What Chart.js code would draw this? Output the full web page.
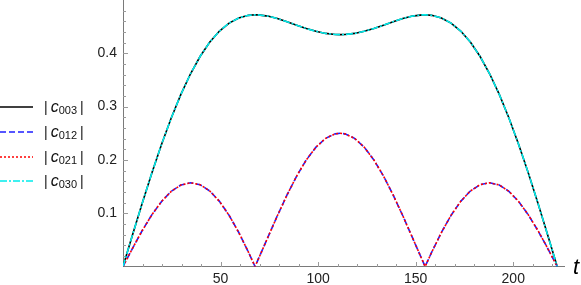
<!DOCTYPE html>
<html><head><meta charset="utf-8">
<script src="https://cdn.jsdelivr.net/npm/chart.js@4"></script>
<style>
html,body{margin:0;padding:0;background:#fff;overflow:hidden}
#wrap{position:relative;width:581px;height:285px}
#c{position:absolute;left:0;top:0}
.leg{position:absolute;left:0;height:20px;display:flex;align-items:center;font-family:"Liberation Sans",Arial,sans-serif;font-size:14px;color:#111;white-space:nowrap}
.leg svg{display:block;margin-right:11px}
.leg i{font-size:16px;font-style:italic;margin-left:3px}
.leg .sub{font-size:11px;position:relative;top:3px;margin-right:3px}
#tlab{position:absolute;left:573px;top:256px;font:italic 22px/22px "Liberation Sans",Arial,sans-serif;color:#000}
</style></head>
<body><div id="wrap"><canvas id="c" width="581" height="285"></canvas><div id="legend"></div><div id="tlab">t</div></div>
<script>
// time values (t)
const tValues = [0,4.94,9.89,14.83,19.78,24.72,29.67,34.61,39.56,44.5,49.44,54.39,59.33,64.28,67.66,69.22,74.17,79.11,84.06,89,93.94,98.89,103.83,108.78,111.25,113.72,118.67,123.61,128.56,133.5,138.44,143.39,148.33,153.28,154.84,158.22,163.17,168.11,173.06,178,182.94,187.89,192.83,197.78,202.72,207.67,212.61,217.56,222.5];
// |c003| (and |c030|, which coincides)
const c003Values = [0,0.0602,0.1192,0.1760,0.2294,0.2786,0.3229,0.3616,0.3944,0.4211,0.4418,0.4567,0.4663,0.4712,0.4722,0.4721,0.4698,0.4652,0.4593,0.4528,0.4465,0.4412,0.4373,0.4353,0.4350,0.4353,0.4373,0.4412,0.4465,0.4528,0.4593,0.4652,0.4698,0.4721,0.4722,0.4712,0.4663,0.4567,0.4418,0.4211,0.3944,0.3616,0.3229,0.2786,0.2294,0.1760,0.1192,0.0602,0];
const c030Values = [0,0.0602,0.1192,0.1760,0.2294,0.2786,0.3229,0.3616,0.3944,0.4211,0.4418,0.4567,0.4663,0.4712,0.4722,0.4721,0.4698,0.4652,0.4593,0.4528,0.4465,0.4412,0.4373,0.4353,0.4350,0.4353,0.4373,0.4412,0.4465,0.4528,0.4593,0.4652,0.4698,0.4721,0.4722,0.4712,0.4663,0.4567,0.4418,0.4211,0.3944,0.3616,0.3229,0.2786,0.2294,0.1760,0.1192,0.0602,0];
// |c012| (and |c021|, which coincides)
const c012Values = [0,0.0346,0.0676,0.0972,0.1221,0.1410,0.1529,0.1571,0.1534,0.1416,0.1222,0.0959,0.0638,0.0270,0,0.0128,0.0541,0.0952,0.1342,0.1697,0.2000,0.2239,0.2405,0.2489,0.2500,0.2489,0.2405,0.2239,0.2000,0.1697,0.1342,0.0952,0.0541,0.0128,0,0.0270,0.0638,0.0959,0.1222,0.1416,0.1534,0.1571,0.1529,0.1410,0.1221,0.0972,0.0676,0.0346,0];
const c021Values = [0,0.0346,0.0676,0.0972,0.1221,0.1410,0.1529,0.1571,0.1534,0.1416,0.1222,0.0959,0.0638,0.0270,0,0.0128,0.0541,0.0952,0.1342,0.1697,0.2000,0.2239,0.2405,0.2489,0.2500,0.2489,0.2405,0.2239,0.2000,0.1697,0.1342,0.0952,0.0541,0.0128,0,0.0270,0.0638,0.0959,0.1222,0.1416,0.1534,0.1571,0.1529,0.1410,0.1221,0.0972,0.0676,0.0346,0];
const seriesNames = ["003","012","021","030"];
const xTickValues = [50,100,150,200];
const yTickValues = [0.1,0.2,0.3,0.4];

const styles = [
  {color:"#000000", dash:[]},
  {color:"rgb(30,30,255)", dash:[6,3]},
  {color:"rgb(255,0,0)", dash:[2,2]},
  {color:"rgb(0,235,235)", dash:[7,2,2,2]}
];
const allValues = [c003Values,c012Values,c021Values,c030Values];

const datasets = allValues.map((vals,i)=>({
  label:"|c"+seriesNames[i]+"|",
  data: tValues.map((t,k)=>({x:t,y:vals[k]})),
  borderColor: styles[i].color,
  borderDash: styles[i].dash,
  borderWidth: 1.6,
  pointRadius: 0,
  tension: 0,
  fill: false,
  order: 4-i
}));

const axisColor = "#7a7a7a";
const tickPlugin = {
  id:"inTicks",
  beforeDatasetsDraw(chart){
    const {ctx, chartArea:a, scales:{x,y}} = chart;
    ctx.save(); ctx.strokeStyle="#9a9a9a"; ctx.lineWidth=1;
    ctx.beginPath();
    for(let v=10; v<=220; v+=10){
      const px=Math.round(x.getPixelForValue(v))+0.5;
      const len = v%50===0?5:3;
      ctx.moveTo(px,Math.round(a.bottom)); ctx.lineTo(px,Math.round(a.bottom)-len);
    }
    for(let k=1;k<=24;k++){
      const py=Math.round(y.getPixelForValue(k*0.02))+0.5;
      const len = k%5===0?5:3;
      ctx.moveTo(Math.round(a.left),py); ctx.lineTo(Math.round(a.left)+len,py);
    }
    ctx.stroke(); ctx.restore();
  }
};

const tickFont = {family:"'Liberation Sans', Arial, sans-serif", size:14};
new Chart(document.getElementById("c"), {
  type:"line",
  data:{datasets},
  plugins:[tickPlugin],
  options:{
    responsive:false, animation:false, devicePixelRatio:1,
    layout:{padding:{left:0,top:0,right:17,bottom:0}},
    plugins:{legend:{display:false}, tooltip:{enabled:false}},
    scales:{
      x:{type:"linear", min:0, max:226,
         afterBuildTicks:s=>{s.ticks = xTickValues.map(v=>({value:v}));},
         afterFit:s=>{s.height=18.5; s.paddingLeft=0; s.paddingRight=0;},
         grid:{display:false, drawTicks:false},
         border:{display:true,color:axisColor,width:1},
         ticks:{font:tickFont,color:"#222",padding:4,maxRotation:0,autoSkip:false}},
      y:{type:"linear", min:0, max:0.5,
         afterBuildTicks:s=>{s.ticks = yTickValues.map(v=>({value:v}));},
         afterFit:s=>{s.width=123; s.paddingTop=0; s.paddingBottom=0;},
         grid:{display:false, drawTicks:false},
         border:{display:true,color:axisColor,width:1},
         ticks:{font:tickFont,color:"#222",padding:6,callback:v=>v.toFixed(1)}}
    }
  }
});

// legend
const legRows = [107,132,157,181];
const lg = document.getElementById("legend");
seriesNames.forEach((n,i)=>{
  const d = document.createElement("div");
  d.className="leg"; d.style.top=(legRows[i]-10)+"px";
  const dash = styles[i].dash.length? ` stroke-dasharray="${styles[i].dash.join(',')}"` : "";
  d.innerHTML = `<svg width="33" height="4"><line x1="0" y1="2" x2="33" y2="2" stroke="${styles[i].color}" stroke-width="1.3"${dash}/></svg><span>|</span><i>c</i><span class="sub">${n}</span><span>|</span>`;
  lg.appendChild(d);
});
</script></body></html>
